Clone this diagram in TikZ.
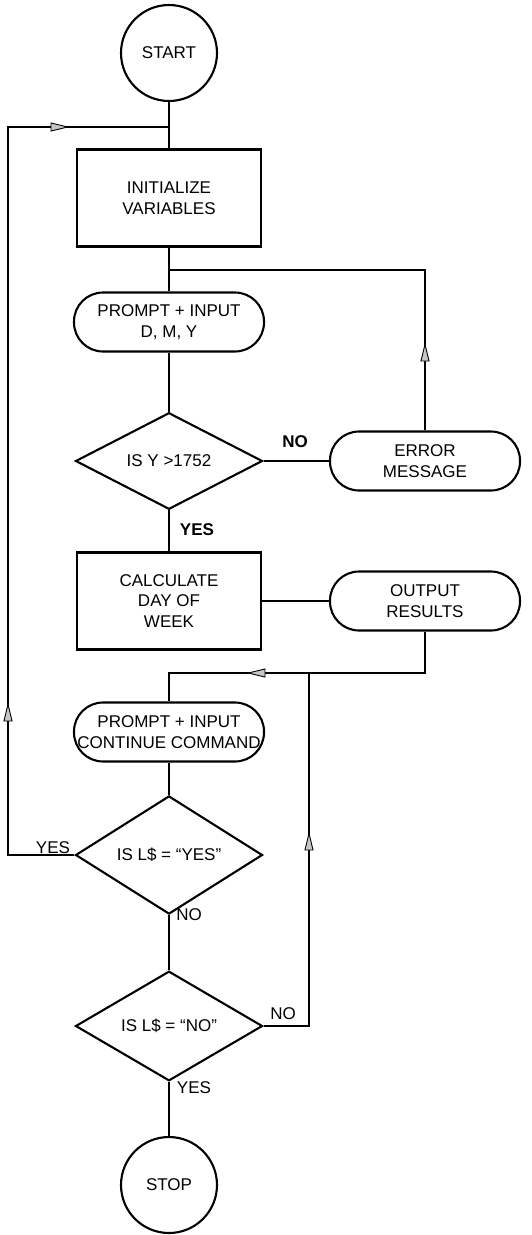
\documentclass[tikz,border=0pt]{standalone}
\usepackage{fontspec}
\setmainfont{Liberation Sans}
\usetikzlibrary{shapes.geometric,arrows.meta,decorations.markings}

\tikzset{
  flowtip/.tip={Triangle[length=19pt,width=9pt,line width=0.9pt,fill=gray!45]},
  base/.style={draw, line width=2.1pt, font=\fontsize{17}{20.5}\selectfont, align=center, inner sep=0pt},
  terminal/.style={base, circle, minimum size=96pt},
  process/.style={base, rectangle, minimum width=184pt, minimum height=97pt},
  io/.style={base, rectangle, rounded corners=29pt, minimum width=190pt, minimum height=59pt},
  decision/.style={base, diamond, minimum width=187pt, minimum height=95pt},
  lbl/.style={font=\fontsize{17}{20}\selectfont, inner sep=0pt},
  lblb/.style={lbl, font=\fontsize{17}{20}\selectfont\bfseries},
  flow/.style={line width=2.1pt},
}

\begin{document}
\begin{tikzpicture}[x=1pt,y=-1pt]
  \useasboundingbox[fill=white] (0,0) rectangle (532,1235);

  % main column
  \node[terminal] (start) at (169,53)  {START};
  \node[process]  (init)  at (169,198) {INITIALIZE\\VARIABLES};
  \node[io]       (p1)    at (169,322) {PROMPT + INPUT\\D, M, Y};
  \node[decision] (d1)    at (169,461) {IS Y >1752};
  \node[process]  (calc)  at (169,601) {CALCULATE\\DAY OF\\WEEK};
  \node[io]       (p2)    at (169,732) {PROMPT + INPUT\\CONTINUE COMMAND};
  \node[decision] (d2)    at (169,855) {IS L\$ = ``YES''};
  \node[decision] (d3)    at (169,1026) {IS L\$ = ``NO''};
  \node[terminal] (stop)  at (169,1185) {STOP};

  % side column
  \node[io] (err) at (425,461) {ERROR\\MESSAGE};
  \node[io] (out) at (425,601) {OUTPUT\\RESULTS};

  % junctions and corners
  \coordinate (jloop) at (169,127);
  \coordinate (jerr)  at (169,270);
  \coordinate (jout)  at (169,673);
  \coordinate (lb)    at (8,855);
  \coordinate (lt)    at (8,127);
  \coordinate (cerr)  at (425,270);
  \coordinate (cout)  at (425,673);
  \coordinate (cno)   at (309,1026);
  \coordinate (cno2)  at (309,673);

  % straight flow
  \draw[flow] (start) -- (init);
  \draw[flow] (init) -- (p1);
  \draw[flow] (p1) -- (d1);
  \draw[flow] (d1) -- (calc);
  \draw[flow] (d1) -- (err);
  \draw[flow] (calc) -- (out);
  \draw[flow] (p2) -- (d2);
  \draw[flow] (d2) -- (d3);
  \draw[flow] (d3) -- (stop);

  % loops back
  \draw[flow, postaction={decorate}, decoration={markings,
        mark=at position 88pt with {\arrow{flowtip}}}]
    (err.north) -- (cerr) -- (jerr);
  \draw[flow, postaction={decorate}, decoration={markings,
        mark=at position 220pt with {\arrow{flowtip}}}]
    (out.south) -- (cout) -- (jout) -- (p2.north);
  \draw[flow, postaction={decorate}, decoration={markings,
        mark=at position 240pt with {\arrow{flowtip}}}]
    (d3.east) -- (cno) -- (cno2);
  \draw[flow, postaction={decorate}, decoration={markings,
        mark=at position 219pt with {\arrow{flowtip}},
        mark=at position 856pt with {\arrow{flowtip}}}]
    (d2.west) -- (lb) -- (lt) -- (jloop);

  % branch labels
  \node[lblb] (no1)  at (295,442)  {NO};
  \node[lblb] (yes1) at (197,530)  {YES};
  \node[lbl]  (yes2) at (53,848)   {YES};
  \node[lbl]  (no2)  at (189,915)  {NO};
  \node[lbl]  (no3)  at (283,1014) {NO};
  \node[lbl]  (yes3) at (194,1088) {YES};
\end{tikzpicture}
\end{document}
